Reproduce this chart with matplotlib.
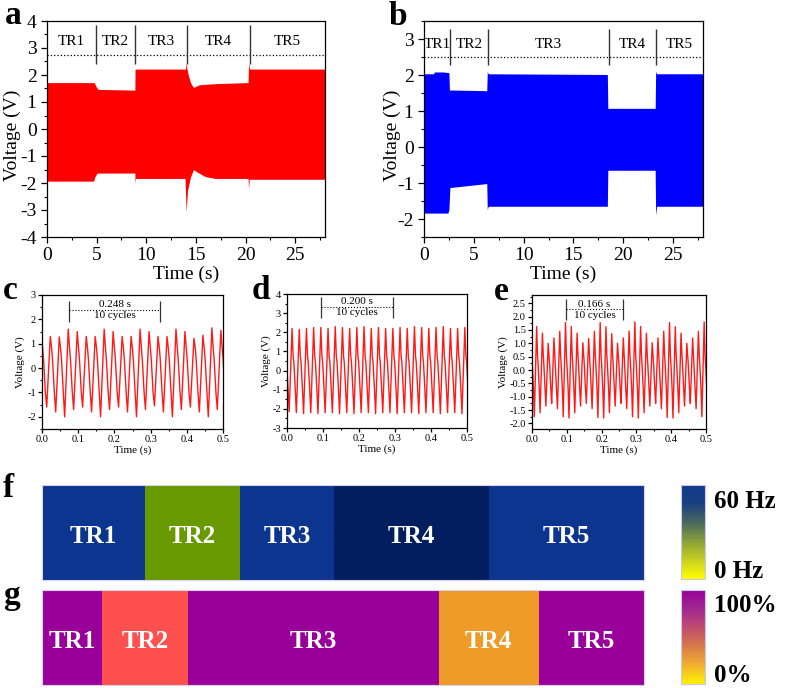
import numpy as np
import matplotlib
matplotlib.use('Agg')
import matplotlib.pyplot as plt
from matplotlib.colors import LinearSegmentedColormap, Normalize
from matplotlib.cm import ScalarMappable
from matplotlib.ticker import MultipleLocator, FormatStrFormatter

plt.rcParams['font.family'] = ['Liberation Serif', 'DejaVu Serif']
plt.rcParams['axes.unicode_minus'] = False

# ---------------- data ----------------
# panel a: envelope of the dense red signal (time s, voltage V)
a_up_t = [0, 4.8, 5.0, 5.2, 8.9, 8.92, 14.0, 14.07, 14.15, 14.3, 14.5, 14.8, 15.4, 17.0, 20.3, 20.35, 20.45, 28.0]
a_up_v = [1.70, 1.70, 1.55, 1.45, 1.42, 2.20, 2.20, 2.43, 2.20, 1.95, 1.70, 1.52, 1.62, 1.66, 1.70, 2.43, 2.20, 2.20]
a_lo_t = [0, 4.75, 4.85, 5.1, 8.9, 8.92, 8.98, 13.95, 14.02, 14.07, 14.2, 14.5, 14.8, 15.2, 16.0, 17.0, 20.3, 20.35, 20.42, 28.0]
a_lo_v = [-1.95, -1.95, -1.80, -1.65, -1.65, -2.00, -1.85, -1.85, -2.60, -3.10, -2.30, -1.80, -1.52, -1.62, -1.78, -1.85, -1.85, -2.23, -1.88, -1.88]
a_bounds = [4.9, 8.9, 14.1, 20.4]

# panel b: envelope of the dense blue signal
b_up_t = [0, 1.0, 1.1, 2.0, 2.55, 2.6, 6.35, 6.4, 6.5, 18.45, 18.5, 23.25, 23.3, 23.4, 28.0]
b_up_v = [2.02, 2.02, 2.07, 2.07, 2.05, 1.57, 1.55, 2.08, 2.02, 2.00, 1.06, 1.06, 2.08, 2.02, 2.02]
b_lo_t = [0, 2.45, 2.55, 2.65, 6.35, 6.4, 6.5, 18.45, 18.5, 23.25, 23.3, 23.4, 28.0]
b_lo_v = [-1.85, -1.85, -1.75, -1.14, -1.03, -1.75, -1.66, -1.66, -0.66, -0.66, -1.90, -1.66, -1.66]
b_bounds = [2.6, 6.4, 18.55, 23.25]

tr_names = ['TR1', 'TR2', 'TR3', 'TR4', 'TR5']

# panel c: 0.248 s / 10 cycles
c_period = 0.0248
c_start = -0.0118
c_peaks = [1.45, 1.30, 1.28, 1.60, 1.50, 1.30, 1.30, 1.60, 1.50, 1.30, 1.30,
           1.60, 1.50, 1.30, 1.30, 1.60, 1.50, 1.22, 1.35, 1.65, 1.55]
c_troughs = [-1.5, -1.6, -1.8, -2.0, -1.7, -1.6, -1.8, -2.0, -1.7, -1.6, -1.8,
             -2.0, -1.7, -1.55, -1.8, -2.0, -1.7, -1.6, -1.8, -2.0, -1.7]
c_kinks = [0.8, 0.35, -1.0]

# panel d: 0.200 s / 10 cycles
d_period = 0.020
d_start = -0.014
d_peaks = [2.20, 2.20, 2.15, 2.20, 2.25, 2.25, 2.20, 2.30, 2.25, 2.20, 2.25, 2.30, 2.20,
           2.25, 2.20, 2.20, 2.25, 2.20, 2.30, 2.25, 2.20, 2.25, 2.30, 2.20, 2.20, 2.25]
d_troughs = [-2.20, -2.15, -2.20, -2.25, -2.20, -2.25, -2.20, -2.20, -2.25, -2.20, -2.25, -2.20, -2.20,
             -2.25, -2.20, -2.20, -2.25, -2.20, -2.20, -2.25, -2.20, -2.20, -2.25, -2.20, -2.20, -2.25]
d_kinks = [0.75, 0.45, -1.0]

# panel e: 0.166 s / 10 cycles
e_period = 0.0166
e_start = -0.0099
e_peaks = [1.78, 1.63, 1.38, 1.00, 1.20, 1.45, 1.78, 1.63, 1.38, 1.02, 1.18, 1.45,
           1.78, 1.62, 1.36, 1.00, 1.20, 1.46, 1.80, 1.63, 1.38, 1.02, 1.20, 1.45,
           1.78, 1.62, 1.38, 1.00, 1.20, 1.45, 1.80]
e_troughs = [-1.75, -1.75, -1.60, -1.35, -1.25, -1.45, -1.75, -1.80, -1.60, -1.35, -1.25, -1.45,
             -1.78, -1.80, -1.60, -1.35, -1.25, -1.45, -1.75, -1.80, -1.60, -1.35, -1.25, -1.45,
             -1.78, -1.80, -1.60, -1.35, -1.25, -1.45, -1.75]
e_kinks = [0.55, 0.2, -0.7]

# panels f and g: segment edges (same time scale as a / b) and colours
f_edges = [0, 4.8, 9.2, 13.6, 20.8, 28.0]
f_colors = ['#0b358f', '#689a00', '#0b358f', '#031e5e', '#0b358f']
g_edges = [0, 2.8, 6.8, 18.45, 23.1, 28.0]
g_colors = ['#990099', '#ff5050', '#990099', '#ee9b28', '#990099']


def build_wave(t0, period, troughs, peaks, kinks):
    t, v = [], []
    for k in range(len(peaks)):
        base = t0 + k * period
        t += [base, base + 0.4 * period, base + 0.55 * period, base + 0.65 * period, base + 0.85 * period]
        v += [troughs[k], peaks[k], kinks[0], kinks[1], kinks[2]]
    return np.array(t), np.array(v)


def px_axes(l, t, r, b):
    W, H = 787.0, 688.0
    return fig.add_axes([l / W, 1 - b / H, (r - l) / W, (b - t) / H])


def style(ax, size):
    ax.tick_params(which='both', direction='out', top=False, right=False, labelsize=size)
    ax.tick_params(which='major', length=4, width=0.9)
    ax.tick_params(which='minor', length=2, width=0.8)
    for s in ax.spines.values():
        s.set_linewidth(0.9)


fig = plt.figure(figsize=(7.87, 6.88), dpi=100)

# ---------- a ----------
ax = px_axes(47, 21, 325, 237)
ax.fill(np.r_[a_up_t, a_lo_t[::-1]], np.r_[a_up_v, a_lo_v[::-1]], color='#ff0000', lw=0)
ax.set_xlim(0, 28)
ax.set_ylim(-4, 4)
ax.xaxis.set_major_locator(MultipleLocator(5))
ax.xaxis.set_minor_locator(MultipleLocator(2.5))
ax.yaxis.set_major_locator(MultipleLocator(1))
ax.yaxis.set_minor_locator(MultipleLocator(0.5))
style(ax, 14)
ax.axhline(2.75, color='black', ls=':', lw=0.9)
ax.vlines(a_bounds, 2.4, 3.85, color='#333333', lw=1.0)
edges = [0] + a_bounds + [28]
for i, name in enumerate(tr_names):
    ax.text((edges[i] + edges[i + 1]) / 2, 3.25, name, ha='center', va='center', fontsize=11)
ax.set_xlabel('Time (s)', fontsize=14, labelpad=1)
ax.set_ylabel('Voltage (V)', fontsize=14)
ax.yaxis.set_label_coords(-0.095, 0.47)

# ---------- b ----------
ax = px_axes(424, 21, 703, 237)
ax.fill(np.r_[b_up_t, b_lo_t[::-1]], np.r_[b_up_v, b_lo_v[::-1]], color='#0000ff', lw=0)
ax.set_xlim(0, 28)
ax.set_ylim(-2.5, 3.5)
ax.xaxis.set_major_locator(MultipleLocator(5))
ax.xaxis.set_minor_locator(MultipleLocator(2.5))
ax.yaxis.set_major_locator(MultipleLocator(1))
ax.yaxis.set_minor_locator(MultipleLocator(0.5))
style(ax, 14)
ax.axhline(2.5, color='black', ls=':', lw=0.9)
ax.vlines(b_bounds, 2.29, 3.27, color='#333333', lw=1.0)
edges = [0] + b_bounds + [28]
for i, name in enumerate(tr_names):
    ax.text((edges[i] + edges[i + 1]) / 2, 2.86, name, ha='center', va='center', fontsize=11)
ax.set_xlabel('Time (s)', fontsize=14, labelpad=1)
ax.set_ylabel('Voltage (V)', fontsize=14)
ax.yaxis.set_label_coords(-0.082, 0.47)


def small_panel(box, t0, period, troughs, peaks, kinks, ylim, ymaj, fmt, ann, label_x):
    ax = px_axes(*box)
    t, v = build_wave(t0, period, troughs, peaks, kinks)
    ax.plot(t, v, color='#ff1a1a', lw=1.0)
    ax.set_xlim(0, 0.5)
    ax.set_ylim(*ylim)
    ax.xaxis.set_major_locator(MultipleLocator(0.1))
    ax.xaxis.set_minor_locator(MultipleLocator(0.05))
    ax.xaxis.set_major_formatter(FormatStrFormatter('%.1f'))
    ax.yaxis.set_major_locator(MultipleLocator(ymaj))
    ax.yaxis.set_minor_locator(MultipleLocator(ymaj / 2))
    ax.yaxis.set_major_formatter(FormatStrFormatter(fmt))
    style(ax, 7.5)
    ax.tick_params(which='major', length=3, pad=1.5)
    ax.tick_params(which='minor', length=1.5)
    x1, x2, y1, y2, ymid, txt = ann
    ax.vlines([x1, x2], y1, y2, color='#333333', lw=0.9)
    ax.hlines(ymid, x1, x2, color='black', ls=':', lw=0.8)
    ax.text((x1 + x2) / 2, ymid + (y2 - y1) * 0.04, txt, ha='center', va='bottom', fontsize=8)
    ax.text((x1 + x2) / 2, ymid - (y2 - y1) * 0.06, '10 cycles', ha='center', va='top', fontsize=8)
    ax.set_xlabel('Time (s)', fontsize=8, labelpad=1)
    ax.set_ylabel('Voltage (V)', fontsize=8)
    ax.yaxis.set_label_coords(label_x, 0.5)
    return ax


small_panel((42, 295, 223, 429), c_start, c_period, c_troughs, c_peaks, c_kinks,
            (-2.5, 3), 1, '%d', (0.0755, 0.326, 1.9, 2.77, 2.39, '0.248 s'), -0.094)
small_panel((287, 294, 467, 428), d_start, d_period, d_troughs, d_peaks, d_kinks,
            (-3, 4), 1, '%d', (0.094, 0.294, 2.73, 3.86, 3.34, '0.200 s'), -0.089)
small_panel((532, 295, 706, 429), e_start, e_period, e_troughs, e_peaks, e_kinks,
            (-2.21, 2.81), 0.5, '%.1f', (0.097, 0.262, 1.87, 2.65, 2.27, '0.166 s'), -0.138)

# ---------- f and g ----------
f_cmap = LinearSegmentedColormap.from_list('fcm', ['#ffff00', '#c8d020', '#8aa038', '#4a6860', '#1a4080', '#0e3a8c'])
g_cmap = LinearSegmentedColormap.from_list('gcm', ['#fff000', '#f0b030', '#d87a48', '#c04c70', '#a02890', '#990099'])

for (top, bot), seg_edges, cols, cmap, labs in [
        ((485, 580), f_edges, f_colors, f_cmap, ('60 Hz', '0 Hz')),
        ((590, 685), g_edges, g_colors, g_cmap, ('100%', '0%'))]:
    ax = px_axes(42, top, 644, bot)
    lefts = seg_edges[:-1]
    widths = np.diff(seg_edges)
    ax.barh(0, widths, left=lefts, height=1, color=cols, edgecolor='none')
    ax.set_xlim(seg_edges[0], seg_edges[-1])
    ax.set_ylim(-0.5, 0.5)
    ax.set_xticks([])
    ax.set_yticks([])
    for s in ax.spines.values():
        s.set_color('#d8d0ec')
        s.set_linewidth(0.8)
    for i, name in enumerate(tr_names):
        ax.text(lefts[i] + widths[i] / 2, -0.04, name, ha='center', va='center',
                color='white', fontsize=18, fontweight='bold')
    cax = px_axes(681, top, 705, bot - 1)
    cb = fig.colorbar(ScalarMappable(norm=Normalize(0, 1), cmap=cmap), cax=cax, ticks=[])
    cb.outline.set_edgecolor('#c8c8e8')
    cb.outline.set_linewidth(0.8)
    fig.text(714 / 787, 1 - (top + 16) / 688, labs[0], ha='left', va='center', fontsize=18, fontweight='bold')
    fig.text(714 / 787, 1 - (bot - 9) / 688, labs[1], ha='left', va='center', fontsize=18, fontweight='bold')

# panel letters
for letter, x, y in [('a', 5, 24), ('b', 389, 25), ('c', 3, 299), ('d', 252, 299),
                     ('e', 494, 300), ('f', 3, 497), ('g', 3, 604)]:
    fig.text(x / 787, 1 - y / 688, letter, ha='left', va='baseline', fontsize=24, fontweight='bold')

fig.savefig('out.png', dpi=100)
